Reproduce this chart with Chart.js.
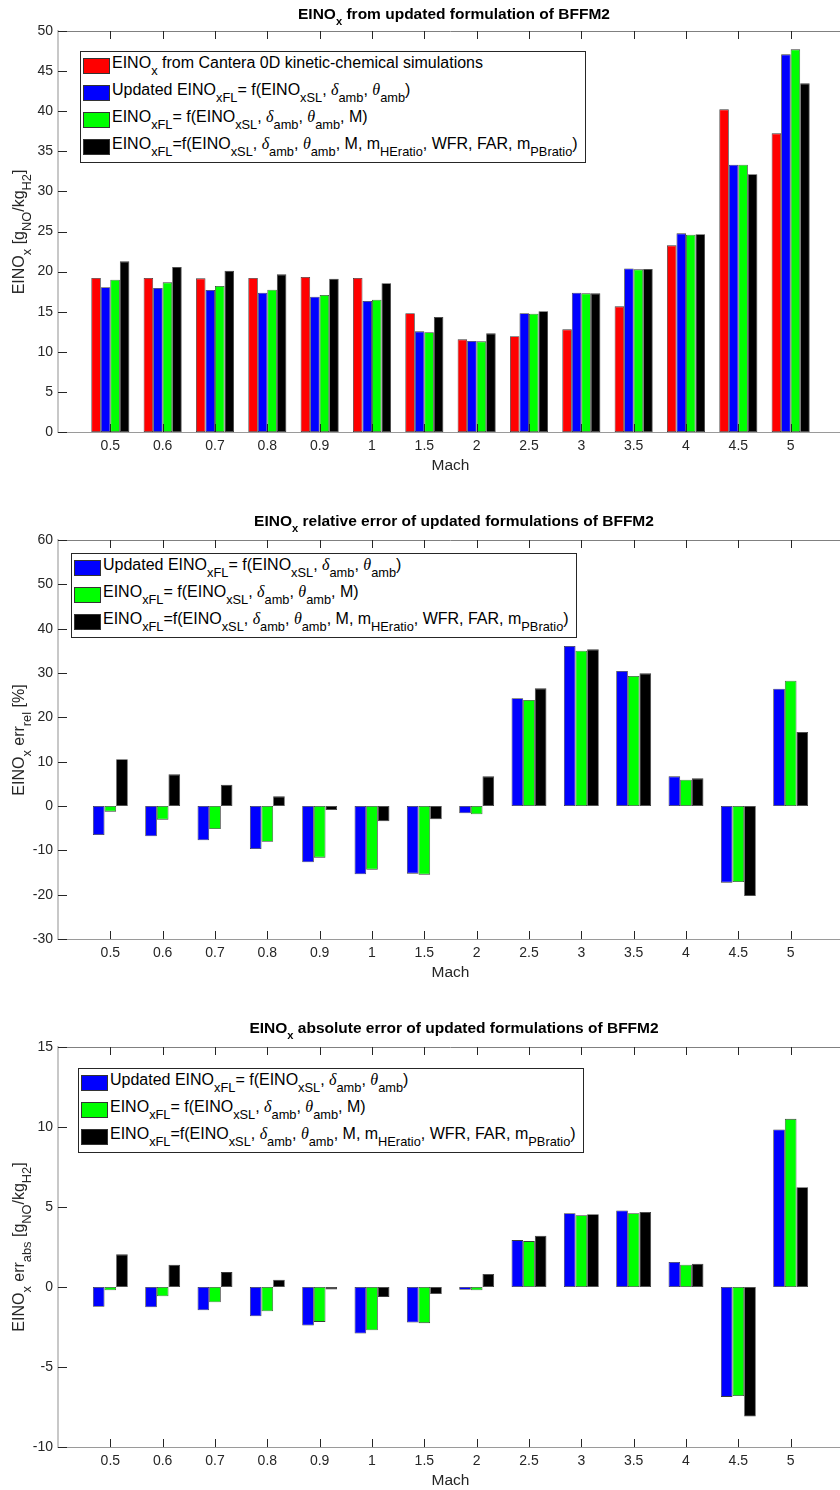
<!DOCTYPE html>
<html>
<head>
<meta charset="utf-8">
<script src="https://cdn.jsdelivr.net/npm/chart.js@4.4.1/dist/chart.umd.min.js"></script>
<style>
html, body { margin:0; padding:0; background:#fff; overflow:hidden; }
#page { position:relative; width:840px; height:1490px; overflow:hidden; font-family:'Liberation Sans', Arial, sans-serif; }
canvas { position:absolute; left:0; }
sub { font-size:0.8em; line-height:0; vertical-align:-0.55em; }
.title { position:absolute; left:154px; width:600px; text-align:center; font-weight:bold; font-size:15.5px; line-height:18px; color:#000; white-space:nowrap; }
.title sub { font-size:0.72em; vertical-align:-0.5em; }
.ylab { position:absolute; width:340px; height:20px; line-height:20px; text-align:center; font-size:16px; color:#262626; transform:rotate(-90deg); white-space:nowrap; }
.legend { position:absolute; width:506px; border:1px solid #262626; background:#fff; box-sizing:border-box; }
.row { position:absolute; left:0; width:100%; height:27px; }
.sw { position:absolute; left:2px; top:0; width:27px; height:16px; border:1px solid #333; box-sizing:border-box; }
.lt { position:absolute; left:31px; top:-4px; font-size:16px; line-height:18px; white-space:nowrap; color:#000; }
.g { font-family:'Liberation Serif', serif; font-style:italic; }
</style>
</head>
<body>
<div id="page"></div>
<script>
// Mach numbers (categories)
const mach = ['0.5','0.6','0.7','0.8','0.9','1','1.5','2','2.5','3','3.5','4','4.5','5'];

// EINOx [gNO/kgH2]
const einoCantera = [19.2, 19.2, 19.16, 19.2, 19.33, 19.2, 14.8, 11.55, 11.93, 12.8, 15.67, 23.27, 40.23, 37.24];
const einoUpdated = [18.04, 17.96, 17.7, 17.37, 16.87, 16.33, 12.55, 11.35, 14.8, 17.37, 20.4, 24.77, 33.33, 47.09];
const einoWithM   = [18.99, 18.66, 18.2, 17.75, 17.08, 16.5, 12.43, 11.3, 14.75, 17.29, 20.28, 24.6, 33.33, 47.71];
const einoFull    = [21.28, 20.57, 20.1, 19.66, 19.12, 18.54, 14.34, 12.3, 15.05, 17.29, 20.32, 24.65, 32.13, 43.47];

// relative error [%]
const relUpdated = [-6.54, -6.84, -7.74, -9.7, -12.7, -15.41, -15.26, -1.65, 24.29, 36.09, 30.45, 6.69, -17.29, 26.47];
const relWithM   = [-1.28, -3.08, -5.19, -8.05, -11.65, -14.36, -15.49, -1.88, 23.9, 35.04, 29.32, 5.94, -17.14, 28.27];
const relFull    = [10.53, 7.14, 4.81, 2.18, -0.9, -3.46, -3.0, 6.69, 26.54, 35.34, 29.92, 6.24, -20.3, 16.69];

// absolute error [gNO/kgH2]
const absUpdated = [-1.23, -1.27, -1.45, -1.83, -2.41, -2.91, -2.22, -0.17, 2.93, 4.61, 4.78, 1.56, -6.87, 9.84];
const absWithM   = [-0.21, -0.58, -0.95, -1.52, -2.18, -2.7, -2.26, -0.21, 2.87, 4.49, 4.61, 1.39, -6.81, 10.51];
const absFull    = [2.04, 1.39, 0.93, 0.46, -0.15, -0.62, -0.44, 0.81, 3.2, 4.55, 4.69, 1.45, -8.1, 6.23];

// y-axis ranges [min, max, step]
const yEino = [0, 50, 5];
const yRel = [-30, 60, 10];
const yAbs = [-10, 15, 5];

// text
const dlt = '<span class="g">δ</span>', tht = '<span class="g">θ</span>';
const nameCantera = 'EINO<sub>x</sub> from Cantera 0D kinetic-chemical simulations';
const nameUpdated = 'Updated EINO<sub>xFL</sub>= f(EINO<sub>xSL</sub>, ' + dlt + '<sub>amb</sub>, ' + tht + '<sub>amb</sub>)';
const nameWithM = 'EINO<sub>xFL</sub>= f(EINO<sub>xSL</sub>, ' + dlt + '<sub>amb</sub>, ' + tht + '<sub>amb</sub>, M)';
const nameFull = 'EINO<sub>xFL</sub>=f(EINO<sub>xSL</sub>, ' + dlt + '<sub>amb</sub>, ' + tht + '<sub>amb</sub>, M, m<sub>HEratio</sub>, WFR, FAR, m<sub>PBratio</sub>)';

const red = '#ff0000', blue = '#0000ff', green = '#00ff00', black = '#000000';
const edge = '#3a3a3a';

Chart.defaults.font.family = "'Liberation Sans', Arial, sans-serif";
Chart.defaults.color = '#262626';

// inward tick marks and top frame, like the matlab axes box
const boxTicks = {
  id: 'boxTicks',
  afterDatasetsDraw(chart) {
    const ctx = chart.ctx, a = chart.chartArea, x = chart.scales.x, y = chart.scales.y;
    ctx.save();
    ctx.lineWidth = 1;
    ctx.strokeStyle = '#808080';
    ctx.beginPath();
    ctx.moveTo(a.left, Math.round(a.top) + 0.5);
    ctx.lineTo(a.right, Math.round(a.top) + 0.5);
    ctx.stroke();
    ctx.strokeStyle = '#262626';
    ctx.beginPath();
    y.ticks.forEach(function(t) {
      var py = Math.round(y.getPixelForValue(t.value)) + 0.5;
      ctx.moveTo(a.left, py); ctx.lineTo(a.left + 9, py);
    });
    x.ticks.forEach(function(t, i) {
      if (!x.getLabelForValue(t.value)) return;
      var px = Math.round(x.getPixelForTick(i)) + 0.5;
      ctx.moveTo(px, a.bottom); ctx.lineTo(px, a.bottom - 8);
      ctx.moveTo(px, a.top); ctx.lineTo(px, a.top + 8);
    });
    ctx.stroke();
    ctx.restore();
  }
};

const page = document.getElementById('page');

function addDiv(cls, html, css) {
  var d = document.createElement('div');
  d.className = cls;
  d.innerHTML = html;
  Object.assign(d.style, css);
  page.appendChild(d);
  return d;
}

function panel(p, series, yr, title, ytitle) {
  var cv = document.createElement('canvas');
  var ctop = p.top - 31;
  cv.width = 849;
  cv.height = p.bottom + 58 - ctop;
  cv.style.top = ctop + 'px';
  page.appendChild(cv);

  var groupPct = Math.min(0.8, series.length / (series.length + 1.5));

  new Chart(cv, {
    type: 'bar',
    data: {
      labels: [''].concat(mach, ['']),
      datasets: series.map(function(s) {
        return {
          data: [null].concat(s.values, [null]),
          backgroundColor: s.color,
          borderColor: edge,
          borderWidth: 0.8,
          borderSkipped: false,
          categoryPercentage: groupPct,
          barPercentage: 1
        };
      })
    },
    options: {
      responsive: false,
      animation: false,
      layout: { padding: { top: 31, left: 0, right: 0, bottom: 0 } },
      plugins: { legend: { display: false }, tooltip: { enabled: false } },
      scales: {
        x: {
          offset: false,
          grid: { display: false, drawTicks: false },
          border: { display: true, color: '#9a9a9a', width: 1 },
          ticks: { autoSkip: false, maxRotation: 0, padding: 6, font: { size: 14 } },
          title: { display: true, text: 'Mach', font: { size: 15.5 }, padding: { top: 0, bottom: 15 } },
          afterFit: function(s) { s.height = 58; }
        },
        y: {
          min: yr[0], max: yr[1],
          grid: { display: false, drawTicks: false },
          border: { display: true, color: '#c8c8c8', width: 2 },
          ticks: { stepSize: yr[2], padding: 5, font: { size: 14 } },
          afterFit: function(s) { s.width = 58; }
        }
      }
    },
    plugins: [boxTicks]
  });

  addDiv('title', title, { top: p.titleTop + 'px' });
  addDiv('ylab', ytitle, { left: (18.6 - 170) + 'px', top: ((p.top + p.bottom) / 2 - 10) + 'px' });

  var lg = addDiv('legend', '', { left: p.legend[0] + 'px', top: p.legend[1] + 'px', height: (4 + 27 * series.length) + 'px' });
  series.forEach(function(s, i) {
    var r = document.createElement('div');
    r.className = 'row';
    r.style.top = (6 + 27 * i) + 'px';
    r.innerHTML = '<div class="sw" style="background:' + s.color + '"></div><div class="lt">' + s.name + '</div>';
    lg.appendChild(r);
  });
}

panel({ top: 31, bottom: 432, titleTop: 5, legend: [80, 51] },
  [ { values: einoCantera, color: red, name: nameCantera },
    { values: einoUpdated, color: blue, name: nameUpdated },
    { values: einoWithM, color: green, name: nameWithM },
    { values: einoFull, color: black, name: nameFull } ],
  yEino,
  'EINO<sub>x</sub> from updated formulation of BFFM2',
  'EINO<sub>x</sub> [g<sub>NO</sub>/kg<sub>H2</sub>]');

panel({ top: 540, bottom: 939, titleTop: 511.5, legend: [71, 553] },
  [ { values: relUpdated, color: blue, name: nameUpdated },
    { values: relWithM, color: green, name: nameWithM },
    { values: relFull, color: black, name: nameFull } ],
  yRel,
  'EINO<sub>x</sub> relative error of updated formulations of BFFM2',
  'EINO<sub>x</sub> err<sub>rel</sub> [%]');

panel({ top: 1047, bottom: 1447, titleTop: 1018.5, legend: [78, 1068] },
  [ { values: absUpdated, color: blue, name: nameUpdated },
    { values: absWithM, color: green, name: nameWithM },
    { values: absFull, color: black, name: nameFull } ],
  yAbs,
  'EINO<sub>x</sub> absolute error of updated formulations of BFFM2',
  'EINO<sub>x</sub> err<sub>abs</sub> [g<sub>NO</sub>/kg<sub>H2</sub>]');
</script>
</body>
</html>
